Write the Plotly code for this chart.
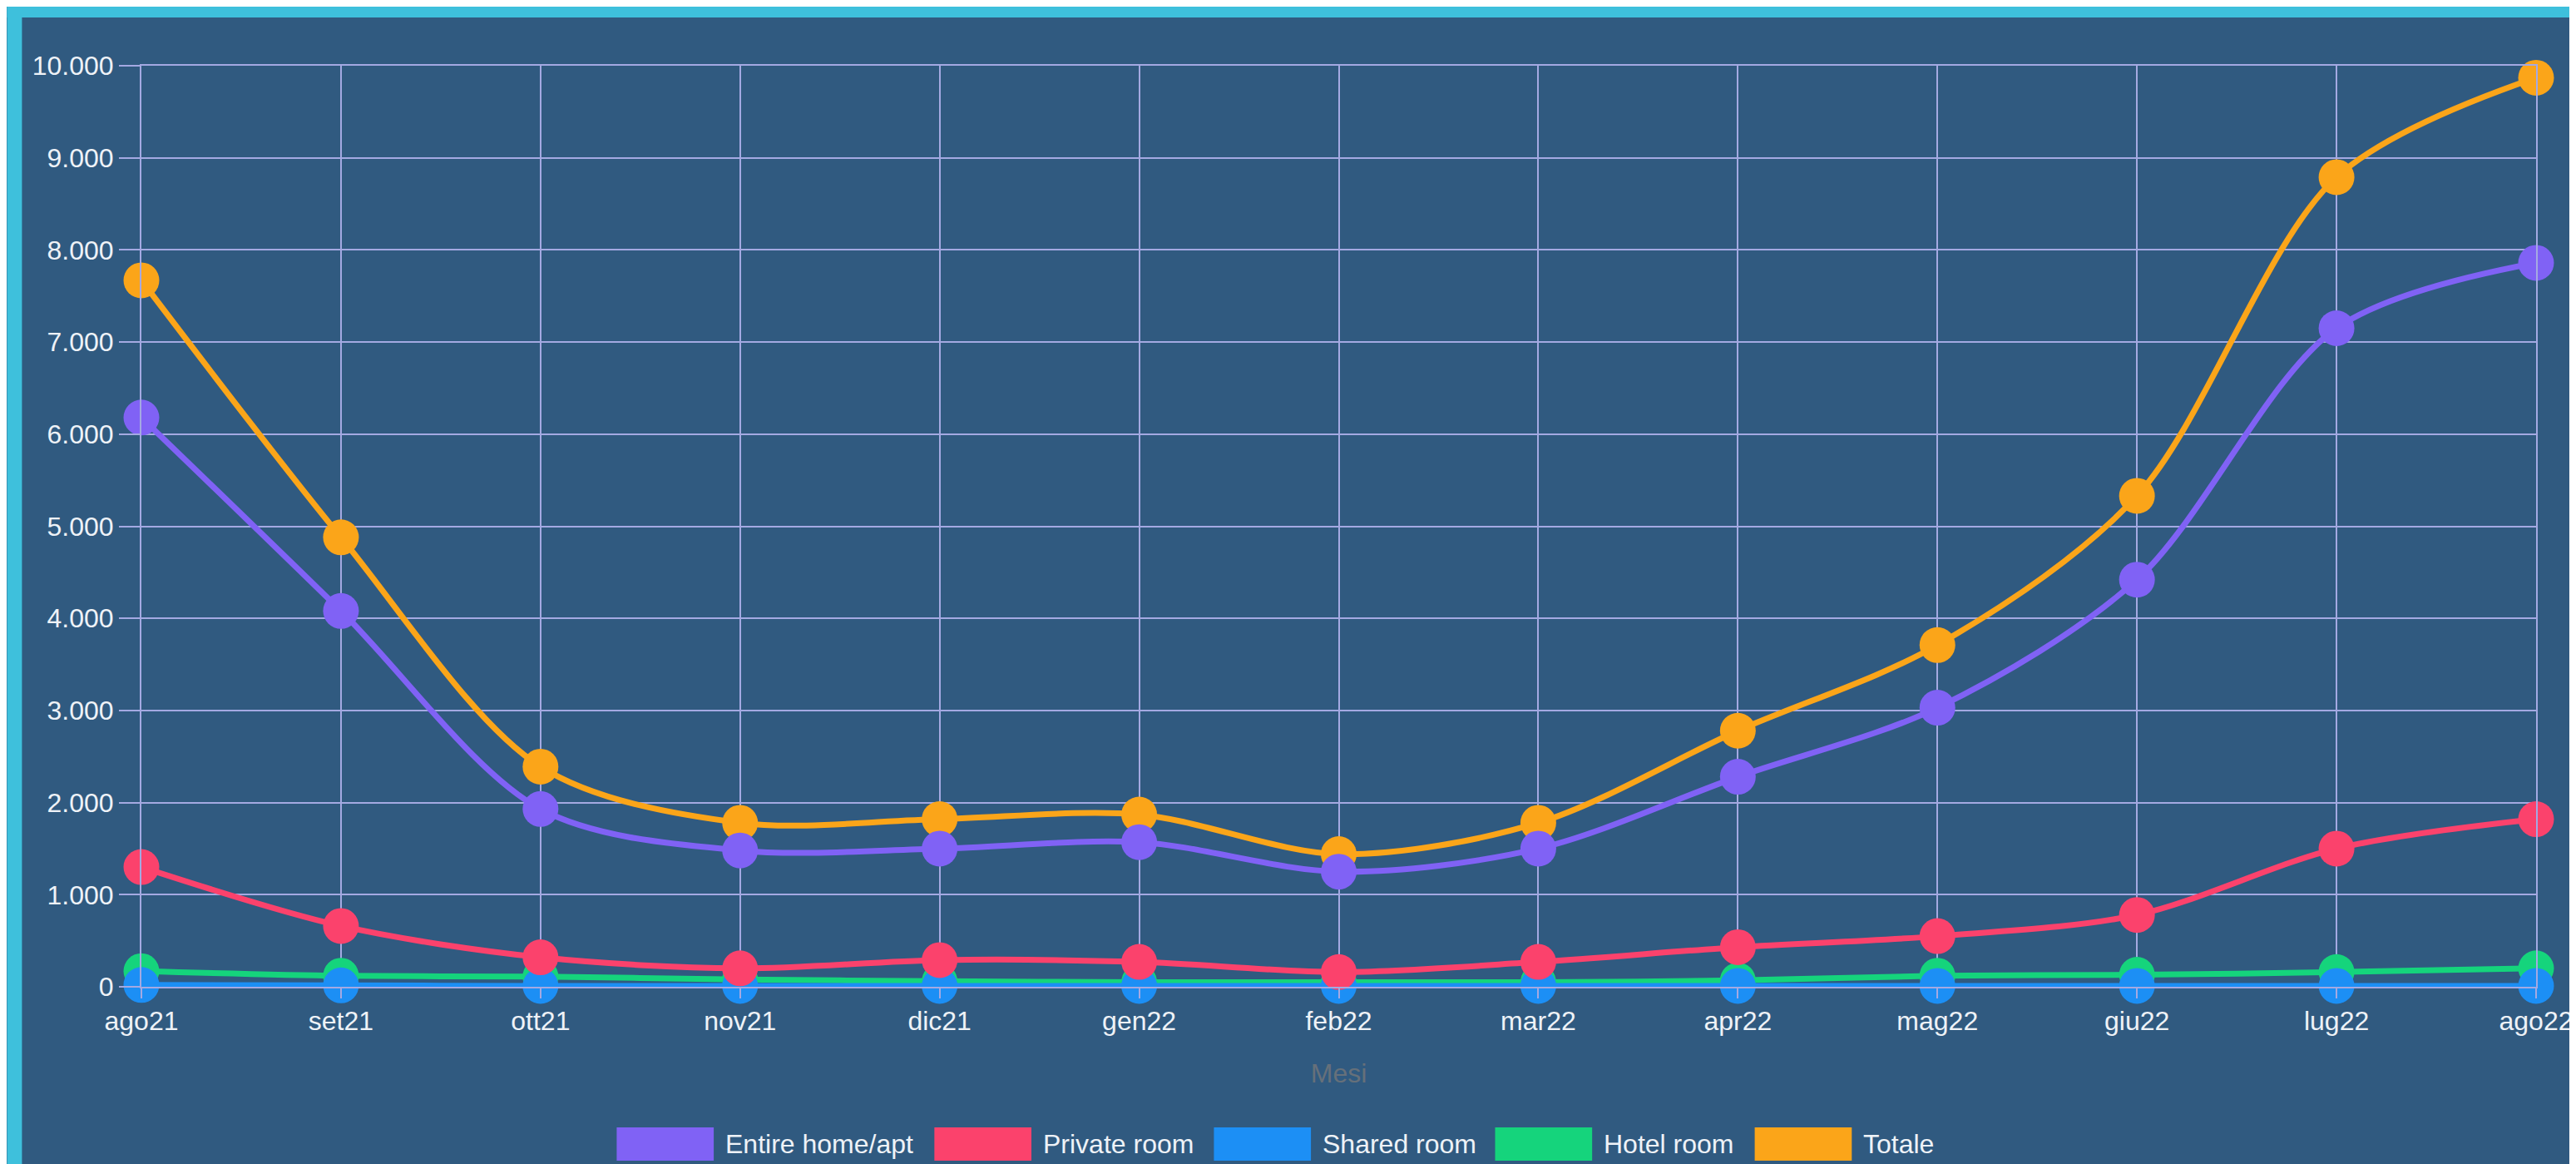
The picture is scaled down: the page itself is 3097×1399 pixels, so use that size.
import plotly.graph_objects as go

mesi = ["ago21", "set21", "ott21", "nov21", "dic21", "gen22", "feb22",
        "mar22", "apr22", "mag22", "giu22", "lug22", "ago22"]

entire_home = [6180, 4080, 1930, 1480, 1500, 1570, 1250, 1500, 2280, 3030, 4420, 7150, 7860]
private_room = [1300, 660, 320, 200, 290, 270, 160, 270, 430, 550, 780, 1500, 1820]
shared_room = [20, 15, 10, 10, 10, 10, 10, 10, 10, 10, 10, 10, 10]
hotel_room = [170, 120, 110, 80, 60, 50, 50, 50, 70, 120, 130, 160, 200]
totale = [7670, 4880, 2390, 1780, 1820, 1870, 1440, 1780, 2780, 3710, 5330, 8790, 9870]

series = [
    ("Entire home/apt", entire_home, "#8062f5"),
    ("Private room", private_room, "#fb426c"),
    ("Shared room", shared_room, "#1c8ff5"),
    ("Hotel room", hotel_room, "#15d47c"),
    ("Totale", totale, "#fba519"),
]

W, H = 3097, 1399
L, R, T, B = 162, 48, 71, 221
plot_w, plot_h = W - L - R, H - T - B

BG = "#305a80"
BORDER = "#3ec0dc"
GRID = "#a4a9e2"
TEXT = "#eef2f7"
FONT = "Liberation Sans, Arial, sans-serif"


def px_x(x):
    return (x - L) / plot_w


def px_y(y):
    return (H - B - y) / plot_h


fig = go.Figure()

# chart.js draws the first dataset on top -> add in reverse
for name, vals, color in reversed(series):
    fig.add_trace(go.Scatter(
        x=mesi, y=vals, name=name, mode="lines+markers",
        line=dict(color=color, width=7, shape="spline", smoothing=0.9),
        marker=dict(color=color, size=43, line=dict(width=0)),
        cliponaxis=False, showlegend=False,
    ))

shapes = [
    # cyan frame strips
    dict(type="rect", xref="paper", yref="paper", x0=px_x(0), x1=px_x(18), y0=px_y(H), y1=px_y(0),
         fillcolor=BORDER, line=dict(width=0), layer="below"),
    dict(type="rect", xref="paper", yref="paper", x0=px_x(0), x1=px_x(W), y0=px_y(13), y1=px_y(0),
         fillcolor=BORDER, line=dict(width=0), layer="below"),
]
annotations = []

# legend: coloured boxes + labels
legend_left = [735, 1118, 1455, 1794, 2107]
for (name, vals, color), x0 in zip(series, legend_left):
    shapes.append(dict(type="rect", xref="paper", yref="paper",
                       x0=px_x(x0), x1=px_x(x0 + 117), y0=px_y(1387), y1=px_y(1347),
                       fillcolor=color, line=dict(width=0)))
    annotations.append(dict(xref="paper", yref="paper", x=px_x(x0 + 129), y=px_y(1367),
                            text=name, showarrow=False, xanchor="left", yanchor="middle",
                            font=dict(size=32, color=TEXT, family=FONT)))

fig.update_layout(
    width=W, height=H,
    margin=dict(l=L, r=R, t=T, b=B),
    paper_bgcolor=BG, plot_bgcolor=BG,
    separators=",.",
    font=dict(family=FONT, size=32, color=TEXT),
    shapes=shapes, annotations=annotations,
    xaxis=dict(
        type="category", range=[0, len(mesi) - 1],
        showgrid=True, gridcolor=GRID, gridwidth=2,
        ticks="outside", ticklen=12, tickcolor=GRID, tickwidth=2,
        tickfont=dict(size=32, color=TEXT),
        title=dict(text="Mesi", font=dict(size=32, color="#66707a"), standoff=34),
        zeroline=False, showline=True, mirror=True, linecolor=GRID, linewidth=2,
    ),
    yaxis=dict(
        range=[0, 10000], dtick=1000, tickformat=",d",
        showgrid=True, gridcolor=GRID, gridwidth=2,
        ticks="outside", ticklen=25, tickcolor=GRID, tickwidth=2,
        tickfont=dict(size=32, color=TEXT),
        zeroline=True, zerolinecolor=GRID, zerolinewidth=2,
        showline=True, mirror=True, linecolor=GRID, linewidth=2,
    ),
    hovermode="x unified",
)

fig.write_html("out.html")
